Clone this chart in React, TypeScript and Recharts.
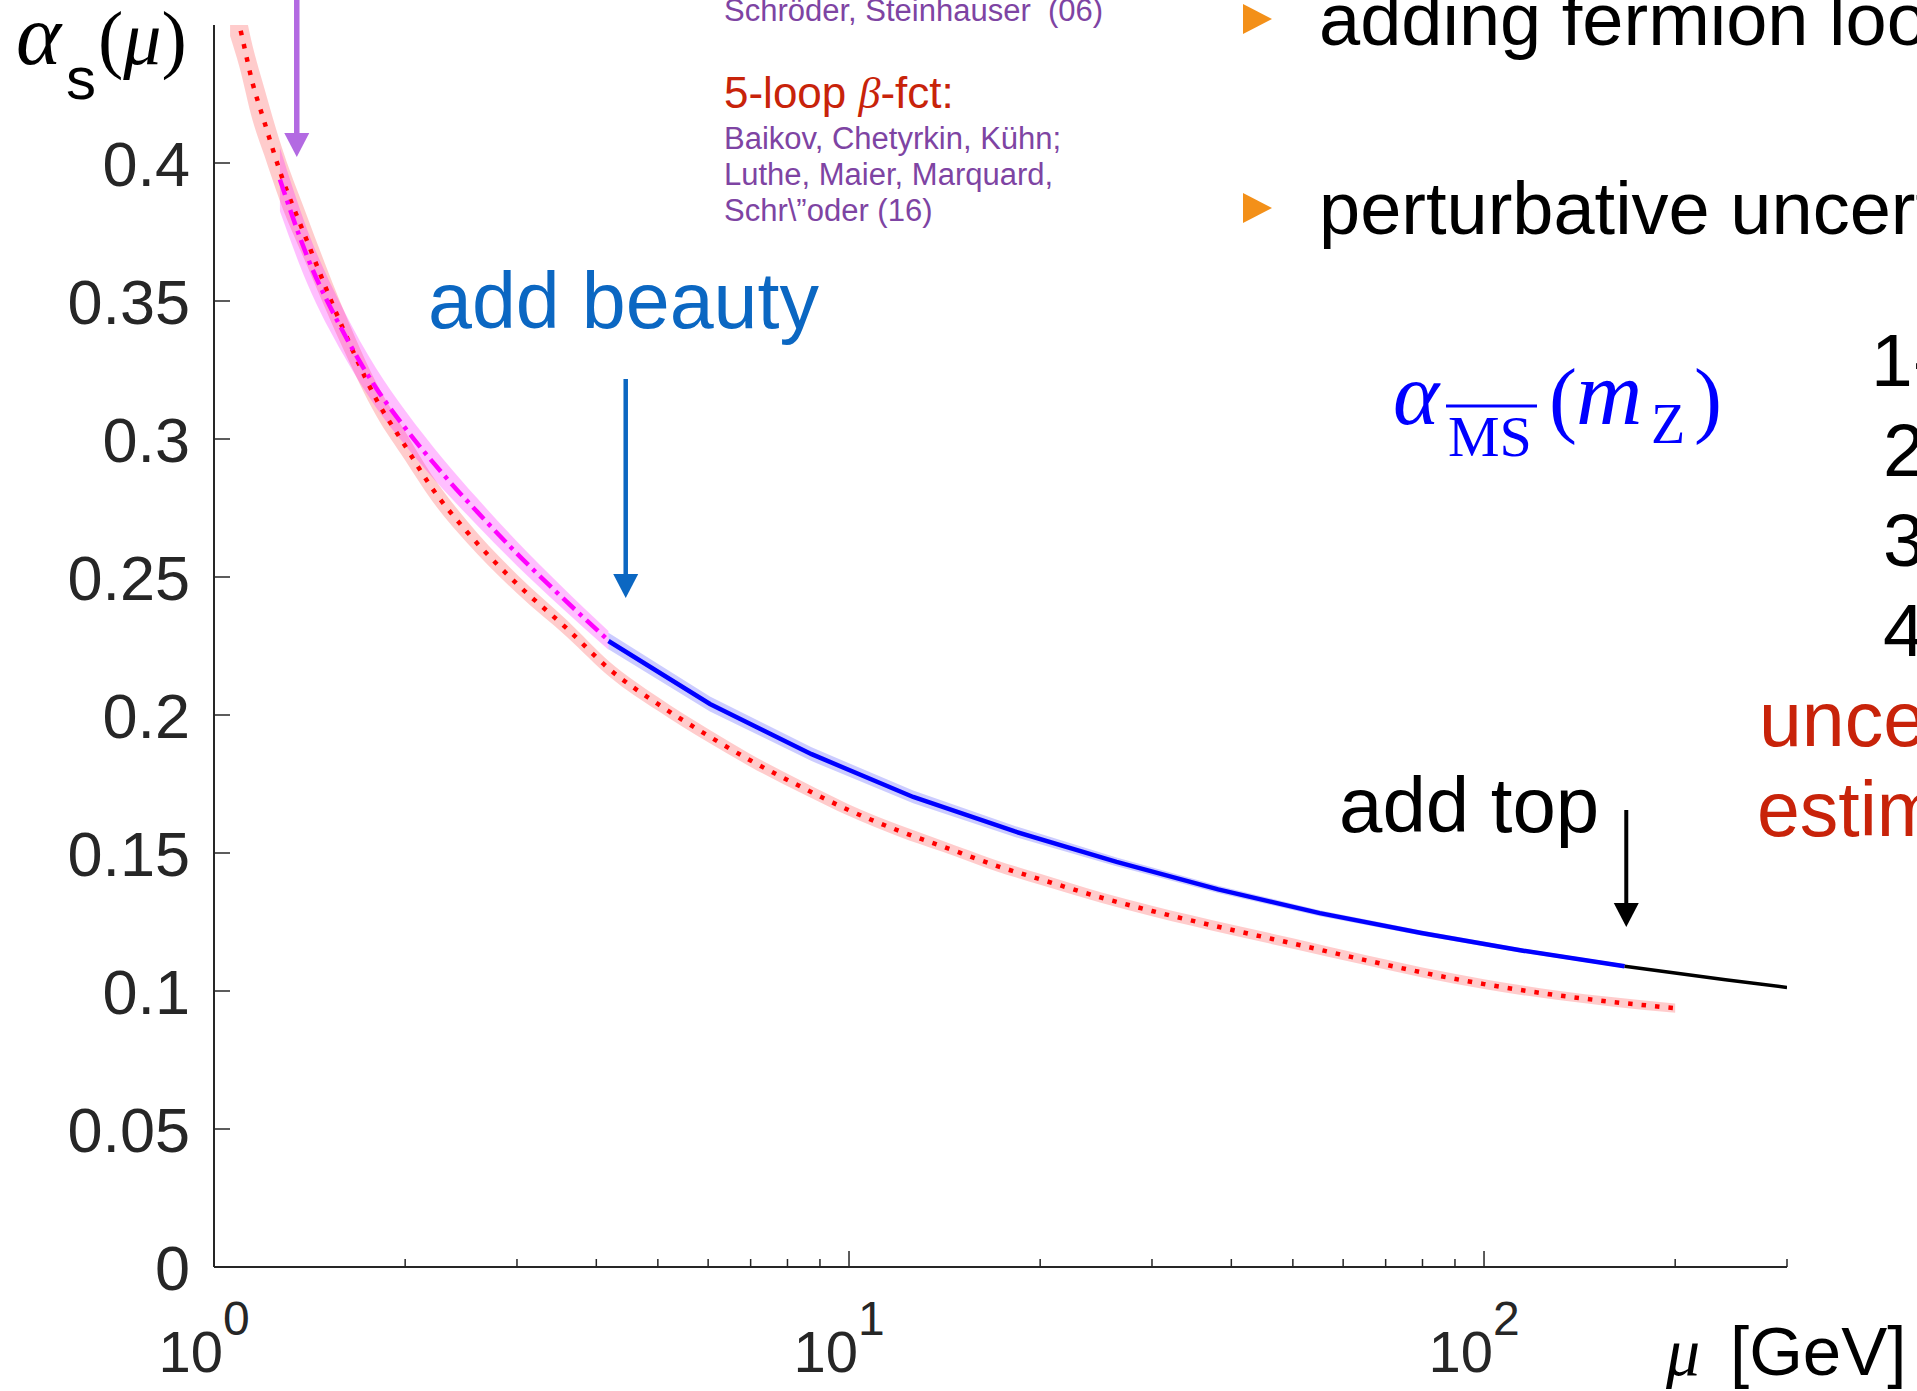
import React from 'react';
import { ComposedChart, Line, Area, XAxis, YAxis } from 'recharts';

const W = 1917;
const H = 1391;
const PLOT_LEFT = 214;
const PLOT_RIGHT = 130;
const PLOT_TOP = 25;
const X_AXIS_H = 124;

const AXIS = '#262626';
const SANS = '"Liberation Sans", Arial, Helvetica, sans-serif';
const SERIF = '"Liberation Serif", "Times New Roman", serif';
const PURPLE = '#7E44A3';
const RED_TXT = '#C8230A';
const BEAUTY = '#0B67C2';

// reference running curve (red, dotted) with its uncertainty
const redMu = [1.06, 1.096, 1.15, 1.2, 1.27, 1.4, 1.6, 1.8, 2.0, 2.2, 2.5, 3.0, 3.6, 4.2, 5, 6, 7, 8.5, 10, 12, 14, 17, 20, 25, 30, 40, 50, 65, 80, 100, 130, 160, 200];
const redAlpha = [0.462, 0.45, 0.429, 0.415, 0.397, 0.372, 0.3395, 0.3145, 0.2975, 0.2825, 0.2665, 0.2475, 0.2312, 0.2165, 0.204, 0.1925, 0.1835, 0.1734, 0.1655, 0.158, 0.1525, 0.1455, 0.1405, 0.1338, 0.129, 0.1222, 0.1172, 0.1112, 0.1067, 0.1025, 0.0985, 0.096, 0.0938];
const redErr = [0.016, 0.015, 0.0135, 0.0122, 0.0108, 0.009, 0.0072, 0.006, 0.0052, 0.0046, 0.004, 0.0034, 0.003, 0.0027, 0.0025, 0.0024, 0.0023, 0.0022, 0.0021, 0.0021, 0.002, 0.002, 0.002, 0.0019, 0.0019, 0.0019, 0.0019, 0.0018, 0.0018, 0.0018, 0.0017, 0.0017, 0.0017];

// nf = 4 : charm threshold up to beauty
const charmMu = [1.27, 1.4, 1.6, 1.8, 2.0, 2.3, 2.6, 3.0, 3.5, 4.18];
const charmAlpha = [0.394, 0.3665, 0.3385, 0.3185, 0.304, 0.287, 0.2735, 0.2585, 0.2435, 0.227];
const charmErr = [0.0115, 0.0098, 0.0082, 0.0071, 0.0063, 0.0055, 0.0049, 0.0044, 0.0039, 0.0034];

// nf = 5 : beauty up to top
const beautyMu = [4.18, 6.04, 8.73, 12.62, 18.25, 26.38, 38.13, 55.12, 79.67, 115.2, 166.5];
const beautyAlpha = [0.2268, 0.204, 0.1858, 0.1703, 0.1578, 0.1468, 0.1368, 0.1282, 0.121, 0.1146, 0.109];
const beautyErr = [0.003, 0.0027, 0.0025, 0.0023, 0.002, 0.0016, 0.0013, 0.0011, 0.0009, 0.0008, 0.0007];

// nf = 6 : above top
const topMu = [166.5, 240, 300];
const topAlpha = [0.109, 0.1041, 0.1013];

const yTicks = [0, 0.05, 0.1, 0.15, 0.2, 0.25, 0.3, 0.35, 0.4];
const yTickLabels = ['0', '0.05', '0.1', '0.15', '0.2', '0.25', '0.3', '0.35', '0.4'];
const xTicks = [1, 2, 3, 4, 5, 6, 7, 8, 9, 10, 20, 30, 40, 50, 60, 70, 80, 90, 100, 200, 300];
const xMajor = [1, 10, 100];
const xMajorExp = ['0', '1', '2'];

const rows = (mu: number[], alpha: number[], err?: number[]) =>
  mu.map((m, i) => ({
    mu: m,
    a: alpha[i],
    band: err ? [alpha[i] - err[i], alpha[i] + err[i]] : undefined,
  }));

const redRows = rows(redMu, redAlpha, redErr);
const charmRows = rows(charmMu, charmAlpha, charmErr);
const beautyRows = rows(beautyMu, beautyAlpha, beautyErr);
const topRows = rows(topMu, topAlpha);

// pixel x of a scale value, for placing the threshold arrows
const plotW = W - PLOT_LEFT - PLOT_RIGHT;
const xOf = (mu: number) => PLOT_LEFT + (plotW * Math.log10(mu)) / Math.log10(300);

const XTick = (props: any) => {
  const { x, y, payload } = props;
  const k = xMajor.indexOf(payload.value);
  const major = k >= 0;
  return (
    <g>
      <line x1={x} x2={x} y1={y} y2={y - (major ? 16 : 8)} stroke={AXIS} strokeWidth={1.5} />
      {major && (
        <text x={x - 10} y={y + 105} textAnchor="middle" fill={AXIS} fontFamily={SANS}>
          <tspan fontSize={58}>10</tspan>
          <tspan fontSize={48} dy={-37}>{xMajorExp[k]}</tspan>
        </text>
      )}
    </g>
  );
};

const YTick = (props: any) => {
  const { x, y, index } = props;
  return (
    <g>
      <line x1={x} x2={x + 16} y1={y} y2={y} stroke={AXIS} strokeWidth={1.5} />
      <text x={x - 24} y={y + 23} textAnchor="end" fontSize={63} fill={AXIS} fontFamily={SANS}>
        {yTickLabels[index]}
      </text>
    </g>
  );
};

const Arrow = ({ x, y0, y1, color, width }: { x: number; y0: number; y1: number; color: string; width: number }) => (
  <g>
    <line x1={x} x2={x} y1={y0} y2={y1 - 22} stroke={color} strokeWidth={width} />
    <polygon points={`${x - 12.5},${y1 - 24} ${x + 12.5},${y1 - 24} ${x},${y1}`} fill={color} />
  </g>
);

const Annotations = () => (
  <svg width={W} height={H} style={{ position: 'absolute', left: 0, top: 0, pointerEvents: 'none' }}>
    {/* axis labels */}
    <text x={16} y={64} fontFamily={SERIF} fontStyle="italic" fontSize={86}>α</text>
    <text x={66} y={99} fontFamily={SANS} fontSize={60}>s</text>
    <text x={98} y={64} fontFamily={SERIF} fontSize={76}>
      (<tspan fontStyle="italic">μ</tspan>)
    </text>
    <text x={1666} y={1375} fontFamily={SERIF} fontStyle="italic" fontSize={68}>μ</text>
    <text x={1730} y={1375} fontFamily={SANS} fontSize={69}>[GeV]</text>

    {/* references */}
    <g fontFamily={SANS}>
      <text x={724} y={21} fontSize={31} fill={PURPLE}>Schröder, Steinhauser{'\u00A0 '}(06)</text>
      <text x={724} y={108} fontSize={44} fill={RED_TXT}>
        5-loop <tspan fontFamily={SERIF} fontStyle="italic">β</tspan>-fct:
      </text>
      <text x={724} y={149} fontSize={31} fill={PURPLE}>Baikov, Chetyrkin, Kühn;</text>
      <text x={724} y={185} fontSize={31} fill={PURPLE}>Luthe, Maier, Marquard,</text>
      <text x={724} y={221} fontSize={31} fill={PURPLE}>Schr\”oder (16)</text>
    </g>

    {/* bullet points */}
    <polygon points="1243,4 1272,19 1243,34" fill="#F39019" />
    <text x={1319} y={45} fontFamily={SANS} fontSize={74}>adding fermion loops</text>
    <polygon points="1243,193 1272,208 1243,223" fill="#F39019" />
    <text x={1319} y={234} fontFamily={SANS} fontSize={74}>perturbative uncertainty</text>

    {/* alpha_MSbar(m_Z) */}
    <g fill="#0000FF" fontFamily={SERIF}>
      <text x={1393} y={424} fontSize={88} fontStyle="italic">α</text>
      <line x1={1446} x2={1537} y1={406} y2={406} stroke="#0000FF" strokeWidth={3} />
      <text x={1448} y={456} fontSize={58}>MS</text>
      <text x={1549} y={427} fontSize={84}>(</text>
      <text x={1576} y={424} fontSize={92} fontStyle="italic">m</text>
      <text x={1651} y={443} fontSize={56}>Z</text>
      <text x={1694} y={427} fontSize={84}>)</text>
    </g>

    <g fontFamily={SANS} fontSize={75}>
      <text x={1871} y={386}>1-loop</text>
      <text x={1883} y={476}>2-loop</text>
      <text x={1883} y={566}>3-loop</text>
      <text x={1883} y={656}>4-loop</text>
    </g>
    <g fontFamily={SANS} fontSize={77} fill={RED_TXT}>
      <text x={1759} y={746}>uncertainty</text>
      <text x={1757} y={836}>estimate</text>
    </g>

    {/* thresholds */}
    <Arrow x={xOf(1.35)} y0={0} y1={157} color="#B36AE2" width={5.5} />
    <text x={428} y={328} fontFamily={SANS} fontSize={79} fill={BEAUTY}>add beauty</text>
    <Arrow x={xOf(4.45)} y0={379} y1={598} color={BEAUTY} width={4.5} />
    <text x={1339} y={832} fontFamily={SANS} fontSize={78}>add top</text>
    <Arrow x={xOf(167.5)} y0={810} y1={927} color="#000000" width={4} />
  </svg>
);

export default function App() {
  return (
    <div style={{ position: 'absolute', left: 0, top: 0, width: W, height: H, overflow: 'hidden', background: '#fff' }}>
      <ComposedChart width={W} height={H} margin={{ top: PLOT_TOP, right: PLOT_RIGHT, bottom: 0, left: 0 }}>
        <XAxis
          type="number"
          dataKey="mu"
          scale="log"
          domain={[1, 300]}
          ticks={xTicks}
          interval={0}
          height={X_AXIS_H}
          tickLine={false}
          tickSize={0}
          tickMargin={0}
          tick={XTick}
          axisLine={{ stroke: AXIS, strokeWidth: 2 }}
          allowDataOverflow
        />
        <YAxis
          type="number"
          domain={[0, 0.45]}
          ticks={yTicks}
          interval={0}
          width={PLOT_LEFT}
          tickLine={false}
          tickSize={0}
          tickMargin={0}
          tick={YTick}
          axisLine={{ stroke: AXIS, strokeWidth: 2 }}
          allowDataOverflow
        />

        {/* uncertainty bands */}
        <Area data={redRows} dataKey="band" type="monotone" stroke="none" fill="#FF0000" fillOpacity={0.2} isAnimationActive={false} />
        <Area data={charmRows} dataKey="band" type="monotone" stroke="none" fill="#FF00FF" fillOpacity={0.25} isAnimationActive={false} />
        <Area data={beautyRows} dataKey="band" type="linear" stroke="none" fill="#0000FF" fillOpacity={0.2} isAnimationActive={false} />

        {/* central values */}
        <Line data={redRows} dataKey="a" type="monotone" stroke="#FF0000" strokeWidth={4.5} strokeDasharray="4.5 9" dot={false} isAnimationActive={false} />
        <Line data={charmRows} dataKey="a" type="monotone" stroke="#FF00FF" strokeWidth={4.5} strokeDasharray="16 6 4 6" dot={false} isAnimationActive={false} />
        <Line data={beautyRows} dataKey="a" type="linear" stroke="#0000FF" strokeWidth={4.5} dot={false} isAnimationActive={false} />
        <Line data={topRows} dataKey="a" type="linear" stroke="#000000" strokeWidth={3.5} dot={false} isAnimationActive={false} />
      </ComposedChart>
      <Annotations />
    </div>
  );
}
